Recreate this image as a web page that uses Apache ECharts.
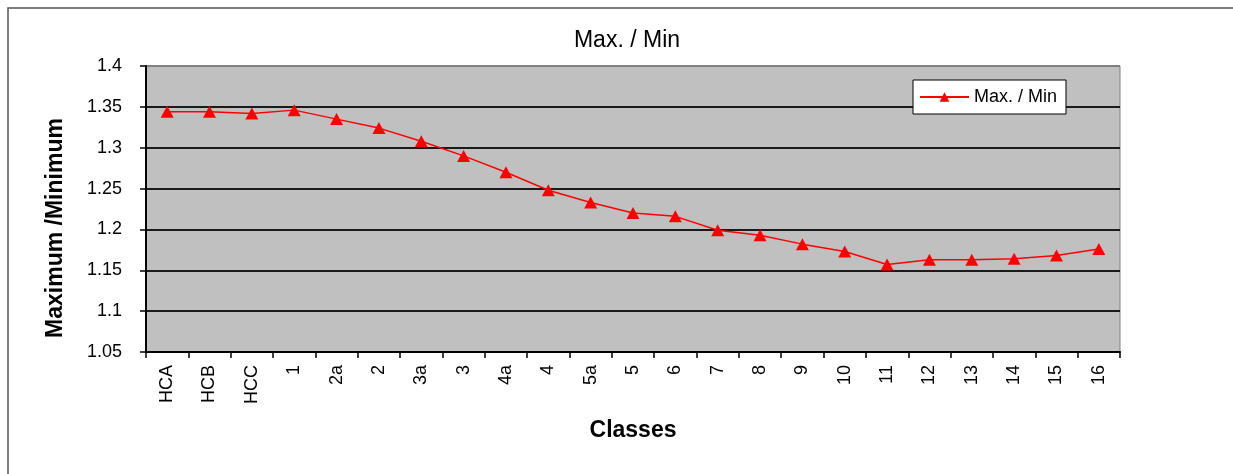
<!DOCTYPE html>
<html>
<head>
<meta charset="utf-8">
<script src="https://cdn.jsdelivr.net/npm/echarts@6/dist/echarts.min.js"></script>
<style>
  html, body { margin: 0; padding: 0; background: #fff; }
  #chart { width: 1233px; height: 474px; }
</style>
</head>
<body>
<div id="chart"></div>
<script>
// Class labels along the x axis
const classes = ['HCA', 'HCB', 'HCC', '1', '2a', '2', '3a', '3', '4a', '4', '5a', '5',
                 '6', '7', '8', '9', '10', '11', '12', '13', '14', '15', '16'];
// Ratio of maximum to minimum for each class
const maxMinRatio = [1.344, 1.344, 1.342, 1.346, 1.335, 1.324, 1.308, 1.290, 1.270, 1.248,
                     1.233, 1.220, 1.216, 1.199, 1.193, 1.182, 1.173, 1.157, 1.163, 1.163,
                     1.164, 1.168, 1.176];
const seriesName = 'Max. / Min';
const yMin = 1.05, yMax = 1.4, yStep = 0.05;

const FONT = 'Liberation Sans, Arial, Helvetica, sans-serif';
const chart = echarts.init(document.getElementById('chart'), null, { renderer: 'canvas' });

chart.setOption({
  animation: false,
  backgroundColor: '#ffffff',
  textStyle: { fontFamily: FONT, color: '#000' },
  graphic: [{
    type: 'rect',
    shape: { x: 8, y: 8, width: 1300, height: 600 },
    style: { fill: 'none', stroke: '#555555', lineWidth: 1.5 },
    silent: true,
    z: -10
  }],
  title: {
    text: seriesName,
    left: 622,
    textAlign: 'center',
    top: 24,
    textStyle: { fontFamily: FONT, fontSize: 23, fontWeight: 'normal', color: '#000' }
  },
  legend: {
    left: 913,
    top: 80,
    padding: [8, 9, 8, 6],
    backgroundColor: '#ffffff',
    borderColor: '#000000',
    borderWidth: 1,
    itemWidth: 49,
    itemHeight: 12,
    selectedMode: false,
    textStyle: { fontFamily: FONT, fontSize: 18, color: '#000' },
    data: [seriesName]
  },
  grid: {
    left: 146,
    right: 113,
    top: 66,
    bottom: 122,
    show: true,
    backgroundColor: '#c0c0c0',
    borderColor: '#808080',
    borderWidth: 1,
    containLabel: false
  },
  xAxis: {
    type: 'category',
    data: classes,
    boundaryGap: true,
    name: 'Classes',
    nameLocation: 'middle',
    nameGap: 67,
    nameTextStyle: { fontFamily: FONT, fontSize: 23, fontWeight: 'bold', color: '#000' },
    axisLine: { show: true, lineStyle: { color: '#000', width: 2 } },
    axisTick: { show: true, interval: 0, length: 6, lineStyle: { color: '#000', width: 1.5 } },
    axisLabel: { interval: 0, rotate: 90, margin: 13, fontFamily: FONT, fontSize: 18, color: '#000' },
    splitLine: { show: false }
  },
  yAxis: {
    type: 'value',
    min: yMin,
    max: yMax,
    interval: yStep,
    name: 'Maximum /Minimum',
    nameLocation: 'middle',
    nameRotate: 90,
    nameGap: 79,
    nameTextStyle: {
      fontFamily: FONT, fontSize: 23, fontWeight: 'bold', color: '#000',
      padding: [0, 38, 0, 0]
    },
    axisLine: { show: true, lineStyle: { color: '#000', width: 2 } },
    axisTick: { show: true, length: 6, lineStyle: { color: '#000', width: 1.5 } },
    axisLabel: {
      margin: 24,
      fontFamily: FONT,
      fontSize: 18,
      color: '#000',
      formatter: v => String(+v.toFixed(2))
    },
    splitLine: {
      show: true,
      lineStyle: {
        color: ['#000', '#1a1a1a', '#1a1a1a', '#1a1a1a', '#1a1a1a', '#1a1a1a', '#1a1a1a', '#808080'],
        width: 2
      }
    }
  },
  series: [{
    name: seriesName,
    type: 'line',
    data: maxMinRatio,
    symbol: 'triangle',
    symbolSize: [13, 12],
    showAllSymbol: true,
    lineStyle: { color: '#ff0000', width: 1.5 },
    itemStyle: { color: '#ff0000' },
    z: 5
  }]
});
</script>
</body>
</html>
